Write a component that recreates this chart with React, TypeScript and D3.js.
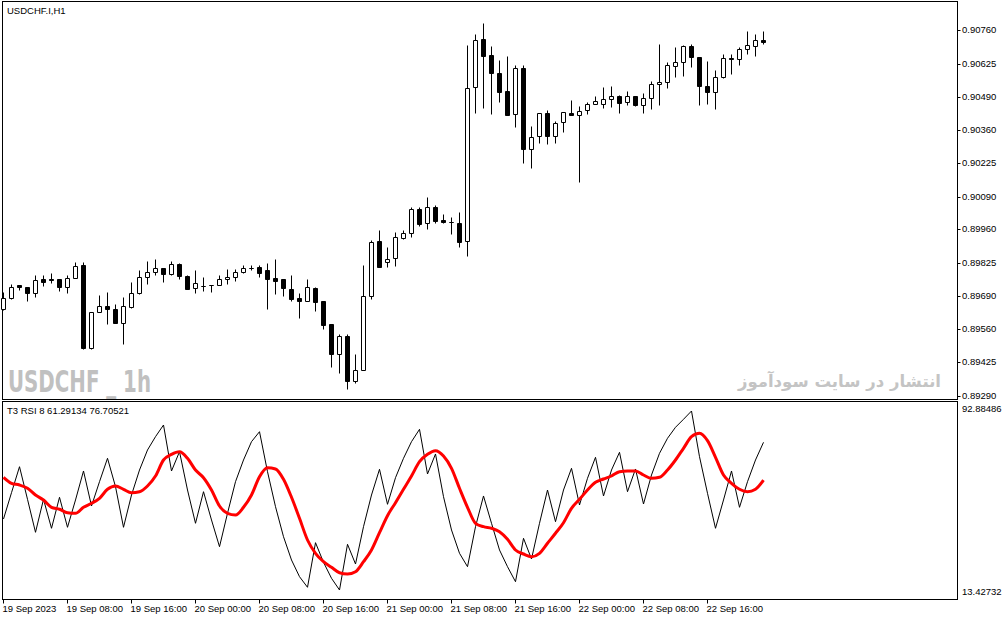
import * as d3 from "d3"

// USDCHF H1 candles (one per hour starting 19 Sep 2023 00:00)
const open = [
  0.89639, 0.89682, 0.89736, 0.89728, 0.89702, 0.8976, 0.8976, 0.8976, 0.89729, 0.89765,
  0.89816, 0.89484, 0.89629, 0.89651, 0.8964, 0.89584, 0.89646, 0.89702, 0.89767, 0.89787,
  0.89805, 0.8978, 0.89819, 0.89773, 0.89723, 0.89733, 0.89735, 0.89736, 0.89759, 0.89767,
  0.89787, 0.89806, 0.89809, 0.89796, 0.89763, 0.89759, 0.89719, 0.89682, 0.89673, 0.89723,
  0.89672, 0.89579, 0.89457, 0.89531, 0.89351, 0.89394, 0.89693, 0.89913, 0.89827, 0.89843,
  0.89923, 0.89943, 0.9004, 0.89984, 0.90048, 0.89997, 0.89989, 0.89984, 0.89913, 0.90532,
  0.90724, 0.9066, 0.90587, 0.90515, 0.90421, 0.90609, 0.90281, 0.90334, 0.90425, 0.90334,
  0.90389, 0.90425, 0.90419, 0.90439, 0.90462, 0.90462, 0.90482, 0.90495, 0.9047, 0.90495,
  0.90459, 0.90486, 0.90542, 0.9055, 0.90617, 0.9063, 0.90696, 0.9065, 0.90536, 0.90512,
  0.9057, 0.90646, 0.90644, 0.90684, 0.90697, 0.9072,
]
const high = [
  0.89708, 0.89739, 0.89737, 0.89729, 0.89776, 0.89776, 0.89783, 0.89761, 0.89776, 0.89827,
  0.89827, 0.89627, 0.89696, 0.89706, 0.89658, 0.89689, 0.89749, 0.89796, 0.89832, 0.8984,
  0.89806, 0.89832, 0.89823, 0.89774, 0.89796, 0.89769, 0.89737, 0.89776, 0.89799, 0.898,
  0.89816, 0.89816, 0.89816, 0.89823, 0.89839, 0.8976, 0.89776, 0.89702, 0.89759, 0.89727,
  0.89673, 0.8958, 0.89538, 0.89538, 0.89459, 0.89816, 0.89917, 0.89957, 0.89887, 0.8995,
  0.89957, 0.90048, 0.9005, 0.90088, 0.90057, 0.90021, 0.9001, 0.9003, 0.907, 0.90744,
  0.90787, 0.90696, 0.9064, 0.90656, 0.90619, 0.90619, 0.90374, 0.90426, 0.90439, 0.90394,
  0.9043, 0.90479, 0.90456, 0.9047, 0.90495, 0.90532, 0.90535, 0.90499, 0.90515, 0.90496,
  0.90506, 0.90555, 0.90703, 0.90633, 0.90691, 0.907, 0.90703, 0.90651, 0.90636, 0.90599,
  0.90662, 0.90662, 0.90691, 0.90756, 0.90743, 0.90756,
]
const low = [
  0.89635, 0.8968, 0.89716, 0.89673, 0.89689, 0.89733, 0.89743, 0.89713, 0.89702, 0.89764,
  0.89479, 0.89479, 0.89628, 0.8958, 0.89583, 0.89498, 0.89642, 0.89701, 0.89739, 0.89776,
  0.89747, 0.89776, 0.8976, 0.89718, 0.89705, 0.89712, 0.89709, 0.89735, 0.89739, 0.89752,
  0.89783, 0.89796, 0.89767, 0.89641, 0.897, 0.89693, 0.89673, 0.89605, 0.89672, 0.89633,
  0.89559, 0.89408, 0.89384, 0.89317, 0.89343, 0.89393, 0.89678, 0.89808, 0.89809, 0.89813,
  0.89919, 0.89927, 0.89974, 0.8996, 0.89984, 0.89984, 0.89939, 0.8989, 0.89853, 0.90428,
  0.90446, 0.90421, 0.9047, 0.90418, 0.90369, 0.90227, 0.90205, 0.90305, 0.90301, 0.90305,
  0.90349, 0.90418, 0.90151, 0.90423, 0.90461, 0.90446, 0.90452, 0.90428, 0.90459, 0.90455,
  0.90428, 0.90442, 0.90459, 0.90526, 0.90572, 0.90576, 0.90613, 0.90459, 0.90462, 0.90443,
  0.90569, 0.90582, 0.90619, 0.90662, 0.90657, 0.90703,
]
const close = [
  0.89682, 0.89729, 0.89729, 0.89702, 0.89755, 0.89749, 0.89755, 0.89729, 0.89765, 0.89813,
  0.89484, 0.89626, 0.89651, 0.89638, 0.89584, 0.89651, 0.89702, 0.89767, 0.89787, 0.89805,
  0.8978, 0.89819, 0.89773, 0.89719, 0.89743, 0.89732, 0.89734, 0.89759, 0.89767, 0.89787,
  0.89803, 0.89803, 0.89785, 0.89761, 0.89753, 0.89725, 0.8968, 0.89673, 0.89727, 0.89669,
  0.89575, 0.89457, 0.89531, 0.89351, 0.89394, 0.89692, 0.89907, 0.89809, 0.8984, 0.89927,
  0.89943, 0.9004, 0.8998, 0.90048, 0.89994, 0.89988, 0.89987, 0.89907, 0.90526, 0.9072,
  0.90657, 0.90586, 0.90512, 0.90419, 0.90609, 0.90281, 0.90329, 0.90425, 0.90334, 0.90385,
  0.90429, 0.90419, 0.90435, 0.90462, 0.90475, 0.90482, 0.90495, 0.90466, 0.90495, 0.90459,
  0.90486, 0.90542, 0.9055, 0.90619, 0.9063, 0.90696, 0.90653, 0.90536, 0.9051, 0.90572,
  0.90646, 0.90642, 0.90684, 0.907, 0.9072, 0.90711,
]

// RSI(8) and its T3 smoothing
const rsi = [
  45.54, 56.23, 66.79, 53.54, 40.13, 53.54, 41.76, 54.36, 42.16, 53.26,
  65.05, 50.82, 60.7, 70.21, 58.67, 42.16, 55.29, 65.45, 73.58, 78.99,
  83.74, 65.05, 72.89, 57.32, 43.79, 56.63, 45.13, 34.28, 47.85, 60.7,
  69.52, 76.96, 81.02, 64.76, 50.54, 38.34, 28.87, 22.09, 17.78, 35.91,
  27.94, 21.44, 16.68, 35.26, 27.25, 42.41, 55.29, 65.74, 51.51, 62.32,
  70.21, 76.96, 81.99, 63.83, 71.96, 54.6, 41.07, 31.6, 26.15, 42.41,
  54.89, 43.79, 32.94, 26.15, 20.05, 37.69, 29.28, 43.79, 57.32, 44.44,
  57.32, 66.14, 51.23, 62.08, 70.61, 54.89, 65.45, 72.65, 56.63, 65.86,
  51.63, 63.42, 72.24, 78.34, 82.81, 86.06, 89.43, 70.86, 55.98, 41.76,
  53.26, 65.05, 50.29, 60.7, 69.52, 76.71,
]
const t3 = [
  62.49, 60.05, 59.36, 58.02, 55.29, 53.26, 50.29, 49.48, 48.1, 47.85,
  50.29, 51.92, 53.95, 57.61, 58.95, 57.61, 56.23, 56.63, 58.95, 63.01,
  69.52, 71.83, 72.89, 70.21, 65.45, 62.32, 57.32, 50.82, 47.85, 47.16,
  50.29, 55.29, 62.73, 66.39, 65.86, 61.67, 54.36, 45.82, 37.0, 31.6,
  28.18, 25.91, 23.71, 23.18, 24.12, 28.18, 32.94, 39.97, 46.88, 52.16,
  57.61, 63.01, 68.83, 71.83, 73.3, 71.14, 66.14, 58.02, 50.29, 43.79,
  42.41, 41.76, 40.38, 37.29, 32.94, 31.31, 30.22, 31.6, 35.66, 39.73,
  44.03, 49.89, 53.54, 57.32, 60.45, 61.8, 63.01, 64.76, 65.05, 65.05,
  63.42, 62.08, 62.49, 65.45, 69.52, 74.27, 78.99, 80.37, 77.36, 70.61,
  63.42, 60.05, 57.61, 56.63, 57.61, 61.29,
]
const legendValues = ["61.29134", "76.70521"]

const priceTicks = [0.9076, 0.90625, 0.9049, 0.9036, 0.90225, 0.9009, 0.8996, 0.89825, 0.8969, 0.8956, 0.89425, 0.8929]
const priceTickLabels = ["0.90760", "0.90625", "0.90490", "0.90360", "0.90225", "0.90090", "0.89960", "0.89825", "0.89690", "0.89560", "0.89425", "0.89290"]
const timeLabelBars = [0, 8, 16, 24, 32, 40, 48, 56, 64, 72, 80, 88]
const timeLabels = [
  "19 Sep 2023", "19 Sep 08:00", "19 Sep 16:00", "20 Sep 00:00", "20 Sep 08:00", "20 Sep 16:00",
  "21 Sep 00:00", "21 Sep 08:00", "21 Sep 16:00", "22 Sep 00:00", "22 Sep 08:00", "22 Sep 16:00",
]
const rsiMax = 92.88486
const rsiMin = 13.42732

const FONT = "'Liberation Sans', Arial, sans-serif"

export default function App() {
  const W = 1004
  const H = 620
  const left = 2.5
  const right = 957.5
  const mainTop = 1.5
  const mainBottom = 399.5
  const subTop = 401.5
  const subBottom = 599.5

  const x = d3.scaleLinear().domain([0, 95]).range([3.5, 763.5])
  const yPrice = d3.scaleLinear().domain([0.8929, 0.9076]).range([396, 30])
  const yRsi = d3.scaleLinear().domain([rsiMin, rsiMax]).range([598, 402.5])
  const sy = (v: number) => Math.round(yPrice(v)) + 0.5

  const idx = d3.range(open.length)

  const rsiLine = d3
    .line<number>()
    .x((i) => x(i))
    .y((i) => yRsi(rsi[i]))
  const t3Line = d3
    .line<number>()
    .x((i) => x(i))
    .y((i) => yRsi(t3[i]))
    .curve(d3.curveMonotoneX)

  return (
    <svg
      width={W}
      height={H}
      style={{ position: "absolute", left: 0, top: 0, background: "#fff" }}
      fontFamily={FONT}
    >
      <rect x={0} y={0} width={W} height={H} fill="#fff" />

      {/* panel frames */}
      <rect x={left} y={mainTop} width={right - left} height={mainBottom - mainTop} fill="none" stroke="#000" />
      <rect x={left} y={subTop} width={right - left} height={subBottom - subTop} fill="none" stroke="#000" />

      {/* watermarks */}
      <text
        x={8}
        y={392}
        fill="#c0c0c0"
        fontSize={30}
        fontWeight="bold"
        fontFamily="'Liberation Sans Narrow', 'DejaVu Sans Condensed', sans-serif"
        textLength={143}
        lengthAdjust="spacingAndGlyphs"
      >
        USDCHF _ 1h
      </text>
      <text
        x={941}
        y={387}
        fill="#c4c4c4"
        fontSize={16.5}
        fontWeight="bold"
        fontFamily="'DejaVu Sans', sans-serif"
        textAnchor="end"
      >
        انتشار در سایت سودآموز
      </text>

      {/* candles */}
      <g>
        {idx.map((i) => {
          const cx = x(i)
          const up = close[i] >= open[i]
          const top = Math.round(yPrice(Math.max(open[i], close[i]))) + 0.5
          const bot = Math.round(yPrice(Math.min(open[i], close[i]))) + 0.5
          return (
            <g key={i}>
              <line x1={cx} x2={cx} y1={sy(high[i])} y2={sy(low[i])} stroke="#000" />
              <path
                d={`M${cx - 2},${top}H${cx + 2}V${bot}H${cx - 2}Z`}
                fill={up ? "#fff" : "#000"}
                stroke="#000"
              />
            </g>
          )
        })}
      </g>

      {/* RSI window */}
      <path d={rsiLine(idx) || ""} fill="none" stroke="#000" strokeWidth={1} />
      <path d={t3Line(idx) || ""} fill="none" stroke="#ff0000" strokeWidth={3} strokeLinejoin="round" />

      {/* labels */}
      <text x={7} y={14} fontSize={9.5} fill="#000">
        USDCHF.I,H1
      </text>
      <text x={7} y={414} fontSize={9.5} fill="#000">
        {`T3 RSI 8 ${legendValues[0]} ${legendValues[1]}`}
      </text>

      {/* price axis */}
      {priceTicks.map((p, i) => (
        <g key={p}>
          <line x1={right} x2={right + 3} y1={sy(p)} y2={sy(p)} stroke="#000" />
          <text x={962} y={sy(p) - 1} dy="0.35em" fontSize={9.5} fill="#000">
            {priceTickLabels[i]}
          </text>
        </g>
      ))}

      {/* RSI scale */}
      <text x={962} y={yRsi(rsiMax) + 6} dy="0.35em" fontSize={9.5} fill="#000">
        {rsiMax.toFixed(5)}
      </text>
      <text x={962} y={yRsi(rsiMin) - 6} dy="0.35em" fontSize={9.5} fill="#000">
        {rsiMin.toFixed(5)}
      </text>

      {/* time axis */}
      {timeLabelBars.map((b, i) => (
        <g key={b}>
          <line x1={x(b)} x2={x(b)} y1={subBottom} y2={subBottom + 4} stroke="#000" />
          <text x={x(b) - 1} y={612} fontSize={9.5} fill="#000">
            {timeLabels[i]}
          </text>
        </g>
      ))}
    </svg>
  )
}
